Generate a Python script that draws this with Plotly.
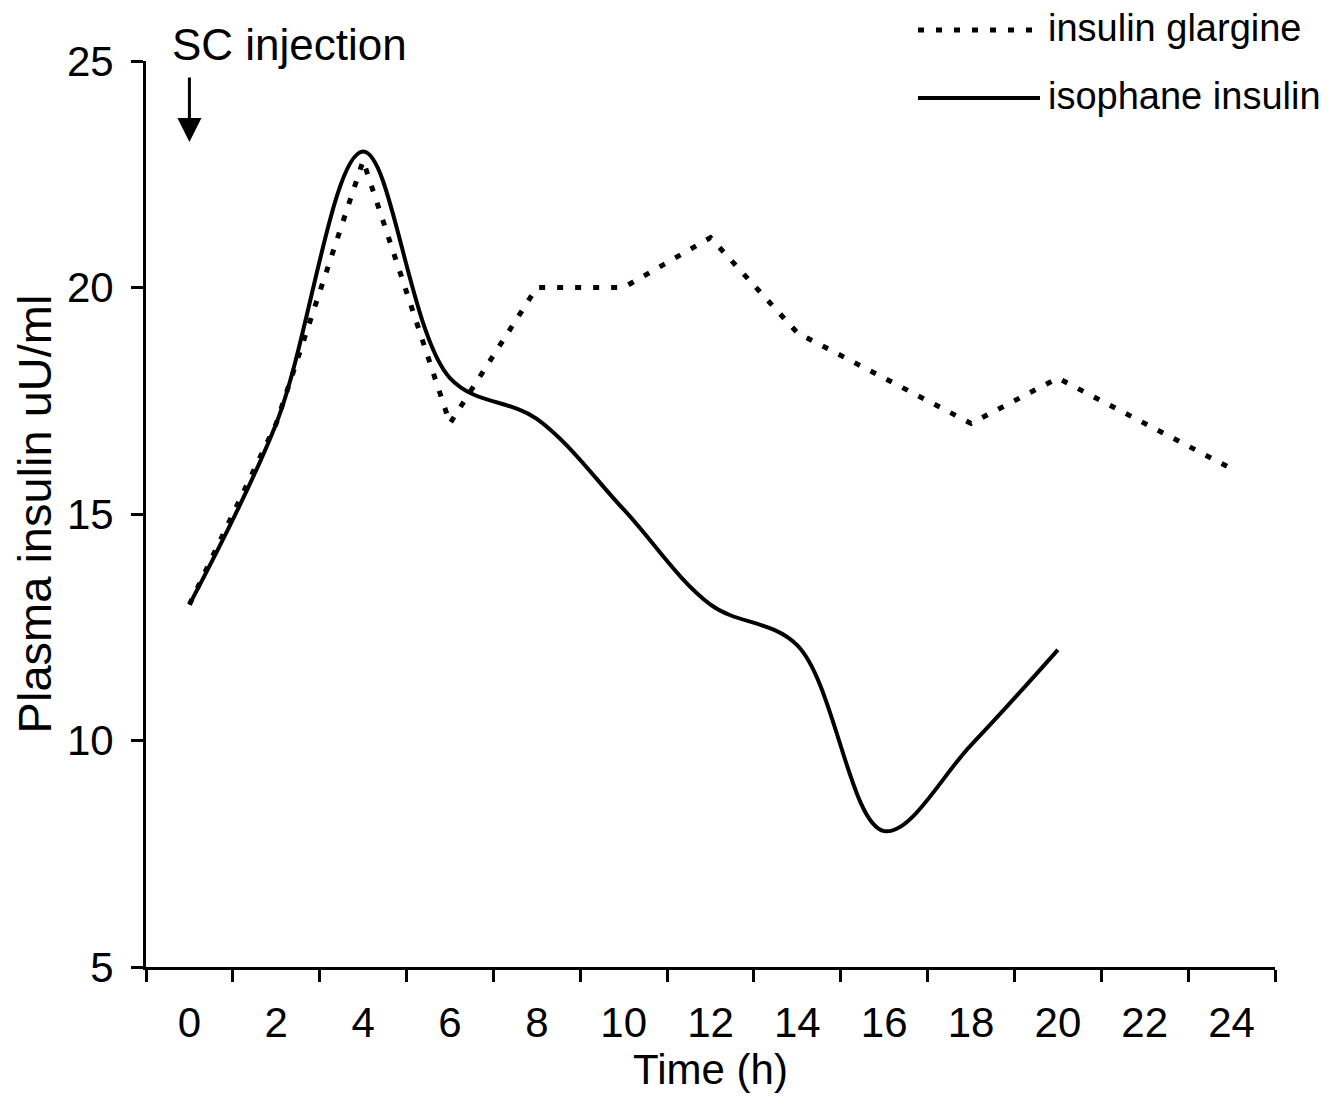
import plotly.graph_objects as go

# Data (hours after SC injection, plasma insulin uU/ml)
hours_glargine = [0, 2, 4, 6, 8, 10, 12, 14, 16, 18, 20, 22, 24]
glargine = [13.0, 17.0, 22.8, 17.0, 20.0, 20.0, 21.1, 19.0, 18.0, 17.0, 18.0, 17.0, 16.0]

hours_isophane = [0, 2, 4, 6, 8, 10, 12, 14, 16, 18, 20]
isophane = [13.0, 17.0, 23.0, 18.0, 17.1, 15.1, 13.0, 12.1, 8.0, 9.9, 12.0]

x_tick_vals = [0, 2, 4, 6, 8, 10, 12, 14, 16, 18, 20, 22, 24]
x_tick_text = [str(v) for v in x_tick_vals]
x_boundary_ticks = [-1, 1, 3, 5, 7, 9, 11, 13, 15, 17, 19, 21, 23, 25]
y_tick_vals = [5, 10, 15, 20, 25]

FONT = "Liberation Sans, Arial, sans-serif"
FS = 42
LEG_FS = 38

fig = go.Figure()
fig.add_trace(go.Scatter(
    x=hours_glargine, y=glargine, mode="lines", name="insulin glargine",
    line=dict(color="black", width=5, dash="6px,12px"), showlegend=False,
))
fig.add_trace(go.Scatter(
    x=hours_isophane, y=isophane, mode="lines", name="isophane insulin",
    line=dict(color="black", width=4, shape="spline", smoothing=1.0), showlegend=False,
))

# page has an 8px body margin; work in reference pixels minus that offset
OFF = 8
W, H = 1343 - 2 * OFF, 1119 - 2 * OFF
L, T = 146 - OFF, 61 - OFF
R = W - (1275 - OFF)
B = H - (967 - OFF)
pw, ph = W - L - R, H - T - B

def px_x(px):
    return (px - OFF - L) / pw

def px_y(py):
    return (H - B - (py - OFF)) / ph

shapes = [
    dict(type="line", xref="paper", yref="paper", x0=px_x(918), x1=px_x(1037),
         y0=px_y(30), y1=px_y(30), line=dict(color="black", width=5, dash="6px,12px")),
    dict(type="line", xref="paper", yref="paper", x0=px_x(918), x1=px_x(1040),
         y0=px_y(98), y1=px_y(98), line=dict(color="black", width=4)),
]

annotations = [
    dict(xref="paper", yref="paper", x=px_x(1046), y=px_y(28), text="insulin glargine",
         showarrow=False, xanchor="left", yanchor="middle",
         font=dict(family=FONT, size=LEG_FS, color="black")),
    dict(xref="paper", yref="paper", x=px_x(1046), y=px_y(96), text="isophane insulin",
         showarrow=False, xanchor="left", yanchor="middle",
         font=dict(family=FONT, size=LEG_FS, color="black")),
    dict(xref="paper", yref="paper", x=px_x(170), y=px_y(45), text="SC injection",
         showarrow=False, xanchor="left", yanchor="middle",
         font=dict(family=FONT, size=FS + 2, color="black")),
    dict(xref="x", yref="paper", x=0, y=px_y(142), ax=0, ay=-66, text="",
         showarrow=True, arrowhead=2, arrowsize=1.6, arrowwidth=3, arrowcolor="black"),
]

fig.update_layout(
    width=W, height=H,
    margin=dict(l=L, r=R, t=T, b=B, pad=0),
    paper_bgcolor="white", plot_bgcolor="white",
    font=dict(family=FONT, size=FS, color="black"),
    shapes=shapes, annotations=annotations,
    xaxis=dict(
        range=[-1, 25], tickmode="array", tickvals=x_tick_vals, ticktext=x_tick_text,
        ticks="", showgrid=False, zeroline=False,
        showline=True, linecolor="black", linewidth=3,
        ticklabelstandoff=17,
        tickfont=dict(family=FONT, size=FS, color="black"),
        minor=dict(tickmode="array", tickvals=x_boundary_ticks, ticks="outside",
                   ticklen=12, tickwidth=3, tickcolor="black", showgrid=False),
        title=dict(text="Time (h)", font=dict(family=FONT, size=FS, color="black"), standoff=10),
    ),
    yaxis=dict(
        range=[5, 25], tickmode="array", tickvals=y_tick_vals,
        ticks="outside", ticklen=12, tickwidth=3, tickcolor="black",
        showgrid=False, zeroline=False,
        showline=True, linecolor="black", linewidth=3,
        ticklabelstandoff=9,
        tickfont=dict(family=FONT, size=FS, color="black"),
        title=dict(text="Plasma insulin uU/ml", font=dict(family=FONT, size=47, color="black"), standoff=9),
    ),
)

fig.write_html("out.html")
